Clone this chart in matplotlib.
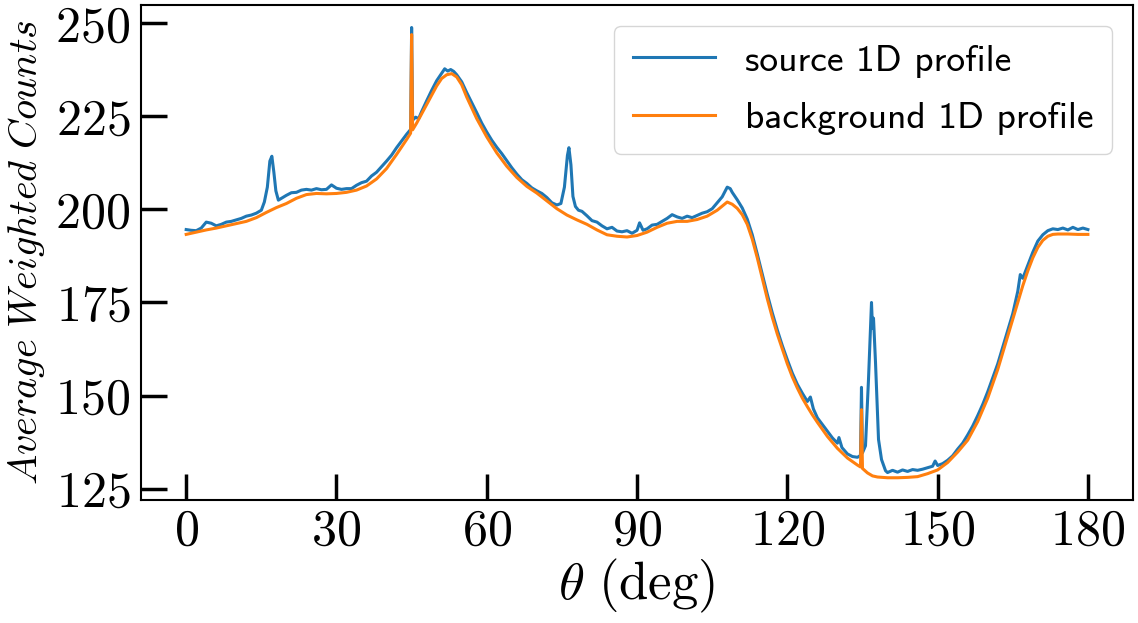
import numpy as np
import matplotlib
matplotlib.use('Agg')
from matplotlib import pyplot as plt

plt.rcParams['font.family'] = 'serif'
plt.rcParams['font.serif'] = ['cmr10']
plt.rcParams['mathtext.fontset'] = 'cm'
plt.rcParams['axes.unicode_minus'] = False
plt.rcParams['axes.formatter.use_mathtext'] = True

# background profile (deg, counts)
theta_bg = [0, 2, 4, 6, 8, 10, 12, 14, 16, 18, 20, 22, 24, 26, 28, 30, 32, 34, 36, 38,
            40, 42, 44, 44.8, 45.0, 45.2, 46, 48, 50, 51, 52, 53, 54, 55, 56, 58, 60, 62,
            64, 66, 68, 70, 72, 74, 76, 78, 80, 82, 84, 86, 88, 90, 92, 94, 96, 98, 100,
            102, 104, 106, 107, 108, 109, 110, 111, 112, 113, 114, 115, 116, 117, 118,
            119, 120, 121, 122, 123, 124, 125, 126, 128, 130, 132, 134, 134.6, 134.8,
            135.0, 136, 137, 138, 140, 142, 144, 146, 148, 150, 152, 154, 156, 158, 160,
            162, 164, 166, 167, 168, 169, 170, 171, 172, 173, 174, 176, 178, 180]
counts_bg = [193.3, 193.9, 194.5, 195.0, 195.6, 196.2, 196.8, 197.8, 199.2, 200.5,
             201.6, 203.0, 204.0, 204.3, 204.2, 204.3, 204.6, 205.2, 206.3, 208.2,
             211.0, 214.8, 218.8, 220.5, 247.0, 221.4, 223.2, 228.2, 233.2, 235.2,
             236.2, 236.5, 235.6, 233.5, 230.2, 224.4, 219.5, 215.2, 211.6, 208.6,
             206.2, 204.4, 202.3, 200.2, 198.5, 197.2, 196.0, 194.5, 193.2, 192.8,
             192.6, 193.0, 193.9, 195.2, 196.3, 196.8, 196.8, 197.3, 198.2, 199.8,
             200.9, 202.0, 201.4, 200.3, 198.6, 196.0, 192.0, 187.0, 181.5, 176.0,
             171.0, 166.5, 162.5, 158.5, 155.0, 152.0, 149.3, 147.0, 144.8, 142.8,
             139.0, 135.8, 133.2, 131.3, 130.8, 146.2, 130.4, 129.2, 128.4, 128.1,
             127.9, 127.9, 128.0, 128.2, 129.0, 130.0, 132.0, 134.8, 138.0, 143.0,
             149.3, 157.0, 166.0, 175.0, 179.5, 183.5, 187.0, 189.8, 191.7, 192.8,
             193.3, 193.4, 193.4, 193.3, 193.3]

# source profile (deg, counts)
theta_src = [0, 1, 2, 3, 4, 5, 6, 7, 8, 9, 10, 11, 12, 13, 14, 15, 15.6, 16.2, 16.7,
             17.1, 17.5, 17.9, 18.4, 19, 20, 21, 22, 23, 24, 25, 26, 27, 28, 29, 30, 31,
             32, 33, 34, 35, 36, 37, 38, 39, 40, 41, 42, 43, 44, 44.8, 45.0, 45.2, 45.8,
             46.4, 47, 48, 49, 50, 51, 51.6, 52.2, 52.8, 53.4, 54, 55, 56, 57, 58, 59,
             60, 61, 62, 63, 64, 65, 66, 67, 68, 69, 70, 71, 72, 73, 74, 74.8, 75.5,
             76.1, 76.4, 76.8, 77.2, 77.7, 78.3, 79, 80, 81, 82, 83, 84, 85, 86, 87, 88,
             89, 90, 90.5, 91.2, 92, 93, 94, 95, 96, 97, 98, 99, 100, 101, 102, 103,
             104, 105, 106, 107, 108, 108.6, 109, 110, 111, 112, 113, 114, 115, 116,
             117, 118, 119, 120, 121, 122, 123, 124, 124.6, 125.2, 126, 127, 128, 129,
             130, 130.3, 130.9, 132, 133, 134, 134.6, 134.8, 135.0, 135.6, 136.2, 136.8,
             137.0, 137.2, 137.6, 138.2, 138.8, 139.6, 140, 141, 142, 143, 144, 145,
             146, 147, 148, 149, 149.5, 150, 151, 152, 153, 154, 155, 156, 157, 158,
             159, 160, 162, 164, 165, 166, 166.5, 167, 168, 169, 170, 171, 172, 173,
             174, 175, 176, 177, 178, 179, 180]
counts_src = [194.6, 194.4, 194.3, 195.0, 196.6, 196.3, 195.6, 196.0, 196.6, 196.8,
              197.2, 197.6, 198.2, 198.5, 199.0, 199.8, 202.0, 206.0, 213.0, 214.3,
              210.0, 205.0, 202.5, 203.0, 203.8, 204.5, 204.6, 205.2, 205.4, 205.2,
              205.6, 205.3, 205.4, 206.6, 205.7, 205.4, 205.6, 205.6, 206.5, 207.2,
              207.6, 209.0, 210.0, 211.5, 213.0, 214.6, 216.6, 218.4, 220.2, 221.5,
              248.9, 224.0, 224.8, 224.4, 226.3, 229.2, 232.0, 234.6, 236.6, 237.8,
              237.2, 237.6, 237.1, 236.2, 234.3, 231.4, 228.7, 226.0, 223.2, 220.8,
              218.6, 216.7, 215.0, 213.1, 211.2, 209.5, 208.0, 207.0, 205.8, 205.0,
              204.3, 203.2, 201.8, 201.2, 201.6, 206.0, 214.5, 216.6, 212.0, 203.5,
              200.8, 199.8, 199.5, 198.3, 197.0, 196.6, 195.6, 194.8, 195.2, 194.2,
              194.0, 194.3, 193.6, 194.4, 196.4, 194.4, 194.8, 195.8, 196.0, 196.8,
              197.6, 198.6, 198.0, 197.6, 198.2, 197.8, 198.4, 199.0, 199.4, 200.2,
              201.8, 203.4, 206.0, 205.6, 204.6, 202.6, 200.4, 197.4, 193.2, 188.0,
              182.6, 177.2, 172.2, 167.6, 163.4, 159.6, 156.0, 153.0, 150.6, 148.4,
              149.6, 146.4, 144.0, 142.2, 140.4, 138.6, 137.2, 138.7, 136.0, 134.3,
              133.6, 133.4, 133.9, 152.2, 134.6, 136.5, 154.3, 175.0, 168.0, 170.8,
              158.9, 138.2, 132.8, 129.8, 129.3, 129.9, 129.4, 130.0, 129.6, 130.1,
              129.9, 130.2, 130.6, 131.0, 132.4, 131.2, 131.7, 132.6, 133.8, 135.6,
              137.2, 139.4, 141.8, 144.6, 147.6, 151.0, 158.5, 167.5, 172.0, 178.0,
              182.5, 181.5, 185.0, 188.5, 191.5, 193.2, 194.3, 194.8, 194.6, 195.0,
              194.5, 195.2, 194.6, 195.0, 194.6]

fig = plt.figure(figsize=(11.38, 6.23), dpi=100)
ax = fig.add_axes([0.124, 0.197, 0.8716, 0.795])

ax.plot(theta_src, counts_src, color='#1f77b4', lw=2.2, label='source 1D profile')
ax.plot(theta_bg, counts_bg, color='#ff7f0e', lw=2.2, label='background 1D profile')

ax.set_xticks([0, 30, 60, 90, 120, 150, 180])
ax.set_yticks([125, 150, 175, 200, 225, 250])
ax.tick_params(direction='in', length=19, width=2.5, labelsize=36, pad=8,
               top=False, right=False)
ax.tick_params(axis='x', pad=6)
for sp in ax.spines.values():
    sp.set_linewidth(1.5)

ax.set_xlabel(r'$\theta\ \mathrm{(deg)}$', fontsize=38, labelpad=2)
ax.set_ylabel(r'$Average\ Weighted\ Counts$', fontsize=29, labelpad=6)

ax.legend(loc='upper right', prop={'family': 'cmss10', 'size': 27},
          handlelength=2.2, handletextpad=0.8, borderpad=0.5, labelspacing=0.65,
          borderaxespad=0.55)

fig.patch.set_facecolor('white')
fig.savefig('out.png', dpi=100, format='png')
